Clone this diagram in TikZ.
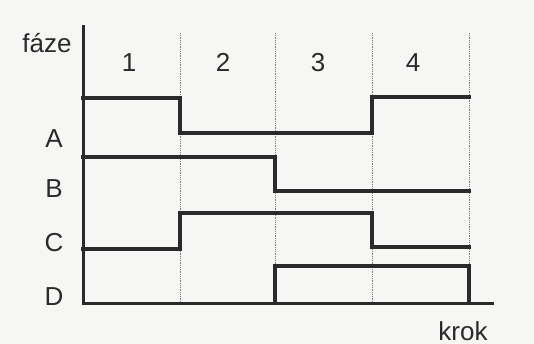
\documentclass[tikz,border=0pt]{standalone}
\usepackage{fontspec}
\setmainfont{Liberation Sans}
\definecolor{ink}{HTML}{2A2A2A}
\definecolor{paper}{HTML}{F6F6F4}
\definecolor{gridc}{HTML}{7A7A7A}
\begin{document}
\begin{tikzpicture}[x=1pt,y=-1pt,
  wave/.style={line width=3.1pt, draw=ink, line join=miter, line cap=rect},
  axisline/.style={line width=3pt, draw=ink},
  gridline/.style={draw=gridc, densely dotted, line width=0.8pt},
  lbl/.style={text=ink, font=\fontsize{26}{30}\selectfont, inner sep=0pt, anchor=base}]
\fill[paper] (0,0) rectangle (534,344);
\useasboundingbox (0,0) rectangle (534,344);
% step boundaries
\foreach \x [count=\i] in {180,275,372,469}
  \draw[gridline] (\x,33) coordinate (gt\i) -- (\x,303) coordinate (gb\i);
% axes
\coordinate (top) at (83,25);
\coordinate (origin) at (83,303);
\coordinate (xend) at (494,303);
\draw[axisline] (top) -- (origin) -- (xend);
% phase A
\draw[wave] (83,98) -- (180,98) -- (180,133) -- (372,133) -- (372,97) -- (469,97);
% phase B
\draw[wave] (83,157) -- (275,157) -- (275,191) -- (469,191);
% phase C
\draw[wave] (83,249) -- (180,249) -- (180,213) -- (372,213) -- (372,247) -- (469,247);
% phase D
\draw[wave] (275,303) -- (275,266) -- (469,266) -- (469,303);
% labels
\node[lbl] (faze) at (47,53) {fáze};
\node[lbl] (s1) at (129,72) {1};
\node[lbl] (s2) at (223,72) {2};
\node[lbl] (s3) at (318,72) {3};
\node[lbl] (s4) at (413,72) {4};
\node[lbl] (pA) at (54,148) {A};
\node[lbl] (pB) at (54,198) {B};
\node[lbl] (pC) at (54,251) {C};
\node[lbl] (pD) at (54,305) {D};
\node[lbl] (krok) at (463,340) {krok};
\end{tikzpicture}
\end{document}
